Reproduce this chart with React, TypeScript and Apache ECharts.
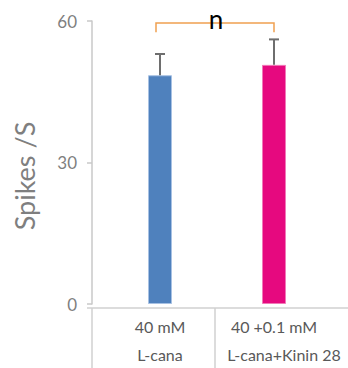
import React, { useEffect, useRef } from "react";
import * as echarts from "echarts";

const categories = ["40 mM", "40 +0.1 mM"];
const subCategories = ["L-cana", "L-cana+Kinin 28"];
const means = [48.5, 50.7];
const errors = [4.5, 5.4];
const barColors = ["#4F81BD", "#E6097F"];
const barBorders = ["#A7C1E3", "#F07AB8"];
const bracket = { from: 0, to: 1, legLow: 57.6, top: 59.6, label: "n" };
const yTicks = { min: 0, max: 60, interval: 30 };
const yName = "Spikes /S";

const FONT = "Lato, 'Open Sans', sans-serif";

export default function App() {
  const ref = useRef<HTMLDivElement>(null);
  useEffect(() => {
    if (!ref.current) return;
    const chart = echarts.init(ref.current, undefined, { renderer: "svg" });
    const option: any = {
      animation: false,
      grid: { left: 103, right: 17, top: 21, bottom: 60, containLabel: false },
      xAxis: {
        type: "category",
        data: categories,
        boundaryGap: true,
        axisLine: { show: false },
        axisTick: { show: false },
        axisLabel: {
          interval: 0,
          margin: 8,
          color: "#595959",
          fontFamily: FONT,
          fontSize: 16,
          lineHeight: 28,
          formatter: (v: string, i: number) =>
            i === 1 ? `{a|${v}}\n{b|${subCategories[i]}}` : `{a|${v}}\n{a|${subCategories[i]}}`,
          rich: {
            a: { color: "#595959", fontFamily: FONT, fontSize: 16, lineHeight: 28 },
            b: { color: "#595959", fontFamily: FONT, fontSize: 16, lineHeight: 28, padding: [0, 0, 0, 20] },
          },
        },
      },
      yAxis: {
        type: "value",
        min: yTicks.min,
        max: yTicks.max,
        interval: yTicks.interval,
        offset: 11,
        splitLine: { show: false },
        axisLine: { show: true, lineStyle: { color: "#C8C8C8", width: 1.5 } },
        axisTick: { show: true, length: 5, lineStyle: { color: "#C8C8C8", width: 1.5 } },
        axisLabel: { color: "#7F7F7F", fontFamily: FONT, fontSize: 17, margin: 15 },
      },
      graphic: [
        {
          type: "text",
          x: 24,
          y: 176,
          rotation: Math.PI / 2,
          style: {
            text: yName,
            fill: "#7F7F7F",
            font: `27px ${FONT}`,
            align: "center",
            verticalAlign: "middle",
          },
        },
        { type: "line", shape: { x1: 87, y1: 308, x2: 348, y2: 308 }, style: { stroke: "#D0D0D0", lineWidth: 1.5 } },
        { type: "line", shape: { x1: 92, y1: 308, x2: 92, y2: 368 }, style: { stroke: "#D0D0D0", lineWidth: 1.5 } },
        { type: "line", shape: { x1: 215, y1: 308, x2: 215, y2: 368 }, style: { stroke: "#D0D0D0", lineWidth: 1.5 } },
      ],
      series: [
        {
          type: "bar",
          barWidth: 24,
          data: means.map((v, i) => ({
            value: v,
            itemStyle: { color: barColors[i], borderColor: barBorders[i], borderWidth: 1 },
          })),
          z: 2,
        },
        {
          type: "custom",
          z: 3,
          data: means.map((v, i) => [i, v, v + errors[i]]),
          renderItem: (params: any, api: any) => {
            const p1 = api.coord([api.value(0), api.value(1)]);
            const p2 = api.coord([api.value(0), api.value(2)]);
            const style = { stroke: "#6E6E6E", lineWidth: 2 };
            return {
              type: "group",
              children: [
                { type: "line", shape: { x1: p1[0], y1: p1[1], x2: p2[0], y2: p2[1] }, style },
                { type: "line", shape: { x1: p2[0] - 5, y1: p2[1], x2: p2[0] + 5, y2: p2[1] }, style },
              ],
            };
          },
        },
        {
          type: "custom",
          z: 4,
          data: [[bracket.from, bracket.legLow, bracket.to, bracket.top]],
          renderItem: (params: any, api: any) => {
            const a = api.coord([api.value(0), api.value(1)]);
            const b = api.coord([api.value(2), api.value(3)]);
            const xa = a[0] - 4;
            const xb = b[0];
            return {
              type: "group",
              children: [
                {
                  type: "polyline",
                  shape: { points: [[xa, a[1]], [xa, b[1]], [xb, b[1]], [xb, a[1]]] },
                  style: { stroke: "#F0A050", lineWidth: 1.5, fill: "none" },
                },
                {
                  type: "text",
                  x: (xa + xb) / 2 + 1,
                  y: b[1] - 4,
                  style: {
                    text: bracket.label,
                    fill: "#000",
                    font: `26px ${FONT}`,
                    align: "center",
                    verticalAlign: "middle",
                  },
                },
              ],
            };
          },
        },
      ],
    };
    chart.setOption(option);
    return () => chart.dispose();
  }, []);
  return (
    <div
      ref={ref}
      style={{ position: "fixed", left: 0, top: 0, width: 348, height: 368, background: "#fff" }}
    />
  );
}
